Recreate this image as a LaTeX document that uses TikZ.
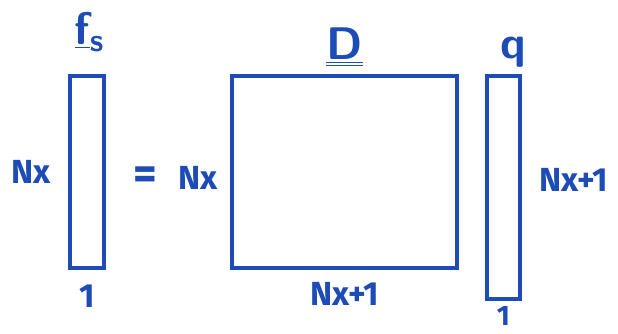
\documentclass[tikz,border=0pt]{standalone}
\usepackage{fontspec}
\setmainfont{Fira Sans}
\usetikzlibrary{positioning}
\definecolor{penblue}{RGB}{30,76,182}

\begin{document}
\begin{tikzpicture}[x=0.02cm, y=-0.02cm, node distance=0.2cm and 0.3cm,
    box/.style={draw=penblue, line width=2.3pt, inner sep=0pt},
    lab/.style={text=penblue, inner sep=1pt, font=\fontsize{19}{22}\selectfont\bfseries},
    big/.style={lab, font=\fontsize{26}{30}\selectfont\bfseries\boldmath}]
%
    \useasboundingbox (0,0) rectangle (618,334);
%
    \node[box, minimum width=0.68cm, minimum height=3.84cm] (fs) at (87,172) {};
    \node[box, minimum width=4.5cm,  minimum height=3.84cm] (D)  at (344.5,172) {};
    \node[box, minimum width=0.66cm, minimum height=4.46cm] (q)  at (503.5,187.5) {};
%
    \node[big, above=0.4cm of fs, xshift=0.05cm] (fslab) {$\underline{\mathsf{f}}_{\mathsf{s}}$};
    \node[big, above=0.1cm of D] (Dlab) {$\underline{\underline{\mathsf{D}}}$};
    \node[big, above=0.1cm of q, xshift=0.2cm] (qlab) {$\mathsf{q}$};
%
    \node[lab, left=0.3cm of fs] (fsrows) {Nx};
    \node[lab, below=0.25cm of fs] (fscols) {1};
    \node[big, right=0.5cm of fs, yshift=-0.12cm] (eq) {=};
    \node[lab, left=0.2cm of D, yshift=-0.12cm] (Drows) {Nx};
    \node[lab, below=0.2cm of D] (Dcols) {Nx+1};
    \node[lab, right=0.3cm of q, yshift=0.15cm] (qrows) {Nx+1};
    \node[lab, inner sep=0pt, below=0.1cm of q, font=\fontsize{16}{18}\selectfont\bfseries] (qcols) {1};
  \end{tikzpicture}
\end{document}
